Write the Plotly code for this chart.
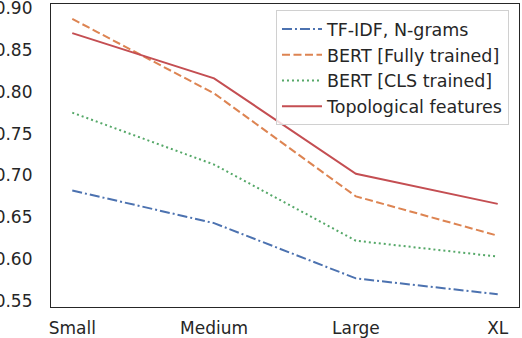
import plotly.graph_objects as go

categories = ["Small", "Medium", "Large", "XL"]
tfidf = [0.682, 0.643, 0.577, 0.558]
bert_full = [0.887, 0.798, 0.675, 0.628]
bert_cls = [0.775, 0.713, 0.622, 0.603]
topo = [0.870, 0.816, 0.702, 0.666]
ytick_vals = [0.55, 0.60, 0.65, 0.70, 0.75, 0.80, 0.85, 0.90]
ytick_text = ["0.55", "0.60", "0.65", "0.70", "0.75", "0.80", "0.85", "0.90"]

series = [
    ("TF-IDF, N-grams", tfidf, "#4C72B0", "10px,3px,2px,3px"),
    ("BERT [Fully trained]", bert_full, "#DD8452", "8px,3.5px"),
    ("BERT [CLS trained]", bert_cls, "#55A868", "2px,3px"),
    ("Topological features", topo, "#C44E52", "solid"),
]

fig = go.Figure()
for i, (name, vals, color, dash) in enumerate(series):
    fig.add_trace(go.Scatter(
        x=categories, y=vals, mode="lines", name=name,
        line=dict(color=color, width=2, dash=dash),
        legendgroup=str(i),
    ))

font = dict(family="DejaVu Sans", size=17, color="#262626")
fig.update_layout(
    width=522, height=338,
    margin=dict(l=51, r=3, t=4, b=31, autoexpand=False),
    paper_bgcolor="white", plot_bgcolor="white",
    font=font,
    showlegend=True,
    legend=dict(
        x=0.9786, y=0.980, xanchor="right", yanchor="top",
        bgcolor="rgba(255,255,255,0.8)", bordercolor="#d0d0d0", borderwidth=1,
        font=dict(family="DejaVu Sans", size=17.5, color="#262626"),
        tracegroupgap=0, itemwidth=40,
    ),
    xaxis=dict(
        type="category", range=[-0.15, 3.15], automargin=False,
        showgrid=False, zeroline=False,
        showline=True, mirror=True, linecolor="#262626", linewidth=1.2,
        ticks="outside", ticklen=5, tickcolor="rgba(0,0,0,0)",
        tickfont=font, ticklabeloverflow="allow",
    ),
    yaxis=dict(
        range=[0.5428, 0.9048], tickvals=ytick_vals, ticktext=ytick_text,
        automargin=False, ticklabeloverflow="allow",
        showgrid=False, zeroline=False,
        showline=True, mirror=True, linecolor="#262626", linewidth=1.2,
        ticks="outside", ticklen=14, tickcolor="rgba(0,0,0,0)",
        tickfont=font,
    ),
)

fig.write_html(
    "out.html",
    config={"displayModeBar": False},
    post_script="document.body.style.margin='0';document.body.style.padding='0';",
)
